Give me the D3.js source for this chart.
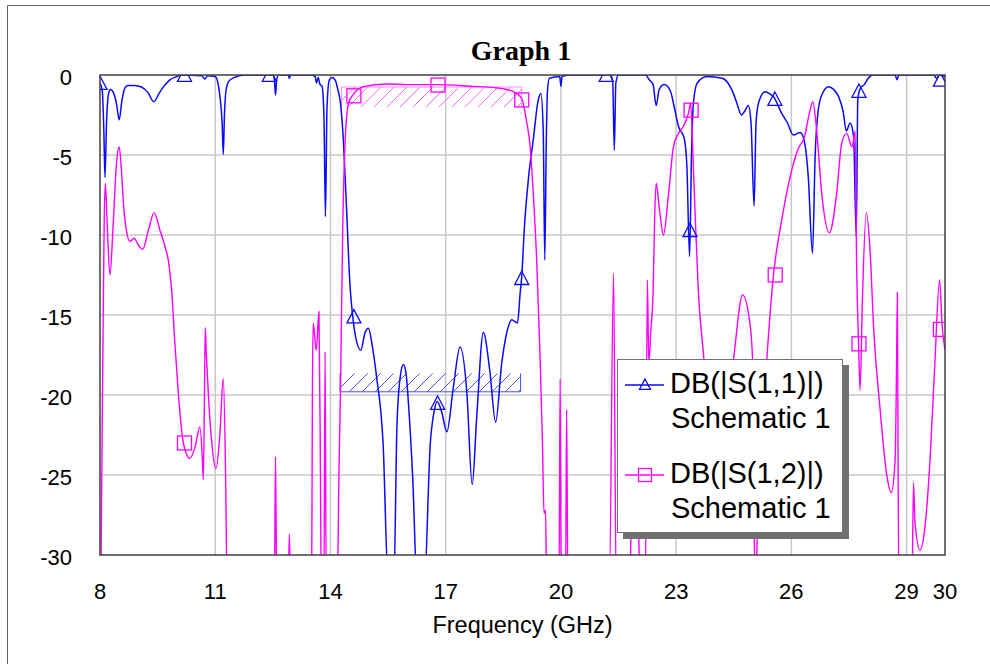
<!DOCTYPE html>
<html>
<head>
<meta charset="utf-8">
<script src="https://cdn.jsdelivr.net/npm/d3@7"></script>
<style>
  body { margin: 0; background: #fff; }
  text { font-family: Arial, "Liberation Sans", sans-serif; }
</style>
</head>
<body>
<div id="vis"></div>
<script>
(function() {
  var W = 990, H = 664;

  // frequency (GHz) / dB, -32 means below the axis floor
  var s11 = [
    [8.00, -0.5], [8.06, -1.0], [8.10, -3.5], [8.13, -6.4], [8.17, -3.0], [8.22, -1.2], [8.27, -0.9],
    [8.35, -1.1], [8.43, -1.8], [8.50, -2.8], [8.57, -1.6], [8.65, -0.8], [8.72, -0.65], [8.90, -0.65],
    [9.08, -0.75], [9.25, -1.1], [9.40, -1.67], [9.55, -1.1], [9.70, -0.6], [9.82, -0.3], [10.0, -0.1],
    [10.1, 0], [10.65, -0.05], [10.73, -0.25], [10.8, -0.05], [11.0, -0.1], [11.07, -0.5], [11.13, -1.5],
    [11.18, -3.0], [11.21, -4.96], [11.24, -2.5], [11.28, -1.0], [11.35, -0.4], [11.5, -0.15], [11.8, 0],
    [12.5, 0], [12.54, -0.3], [12.57, -1.25], [12.60, -0.3], [12.65, 0], [12.9, 0], [12.93, -0.2],
    [12.96, 0], [13.5, 0], [13.6, -0.1], [13.64, -0.5], [13.68, -0.15], [13.73, -0.6], [13.78, -0.7],
    [13.83, -2.5], [13.87, -8.85], [13.91, -2.0], [13.97, -0.3], [14.05, -0.15], [14.13, -0.35],
    [14.2, -1.0], [14.25, -1.56], [14.34, -4.25], [14.42, -8.4], [14.51, -13.2], [14.58, -15.1],
    [14.65, -16.3], [14.79, -17.2], [14.9, -16.1], [14.99, -15.83], [15.08, -16.8], [15.2, -18.85],
    [15.37, -23], [15.51, -32], [15.65, -32], [15.73, -22], [15.82, -18.8], [15.9, -18.1], [15.97, -18.7],
    [16.03, -20.5], [16.14, -25.1], [16.26, -32], [16.44, -32], [16.6, -23], [16.7, -21], [16.78, -20.4],
    [16.9, -21.1], [17.03, -22.3], [17.2, -19.5], [17.375, -17.0], [17.55, -19.8], [17.69, -25.6],
    [17.81, -21.3], [17.98, -16.1], [18.15, -18.5], [18.30, -21.7], [18.46, -18.0], [18.6, -16.0],
    [18.72, -15.3], [18.87, -15.5], [18.94, -13.6], [18.98, -12.6], [19.05, -9.5], [19.16, -6.35],
    [19.28, -4.06], [19.41, -1.56], [19.48, -1.15], [19.54, -3.5], [19.58, -11.56], [19.62, -4.0],
    [19.65, -1.0], [19.70, -0.2], [19.97, -0.1], [20.0, -0.7], [20.03, -0.1], [20.2, 0], [21.3, 0],
    [21.35, -0.5], [21.39, -4.7], [21.43, -0.5], [21.5, 0], [22.2, 0], [22.3, -0.3], [22.4, -0.6],
    [22.48, -1.9], [22.56, -0.9], [22.69, -0.6], [22.85, -1.0], [22.95, -2.0], [23.06, -3.2],
    [23.21, -3.95], [23.28, -5.7], [23.35, -11.35], [23.40, -5.0], [23.45, -1.75], [23.55, -0.5],
    [23.8, -0.1], [24.2, -0.2], [24.35, -0.5], [24.49, -1.15], [24.6, -1.9], [24.7, -2.5], [24.8, -2.2],
    [24.88, -1.9], [24.95, -3.0], [25.03, -8.2], [25.08, -3.0], [25.15, -1.7], [25.32, -1.04],
    [25.45, -1.2], [25.53, -1.35], [25.75, -2.4], [25.9, -3.0], [26.05, -3.75], [26.23, -3.6],
    [26.33, -4.06], [26.44, -6.35], [26.55, -11.15], [26.62, -5.0], [26.7, -2.2], [26.8, -1.2],
    [26.97, -0.73], [27.1, -0.9], [27.23, -1.35], [27.35, -2.3], [27.43, -3.5], [27.53, -3.0],
    [27.62, -3.85], [27.69, -10.1], [27.73, -1.5], [27.8, -0.8], [27.9, -0.6], [28.0, -0.2], [28.14, 0],
    [28.7, 0], [28.75, -0.3], [28.8, 0], [29.7, 0], [29.78, -0.2], [29.85, 0], [30.0, -0.1]
  ];

  var s12 = [
    [8.00, -32], [8.02, -32], [8.05, -24], [8.08, -16], [8.11, -9], [8.14, -6.77], [8.19, -9.5],
    [8.26, -12.5], [8.34, -9.5], [8.43, -5.5], [8.50, -4.5], [8.56, -6.0], [8.61, -8.0], [8.70, -9.9],
    [8.78, -10.4], [8.89, -10.2], [8.99, -10.6], [9.11, -10.9], [9.26, -9.7], [9.41, -8.6], [9.56, -9.7],
    [9.69, -10.7], [9.78, -11.6], [9.87, -13.6], [9.95, -16.8], [10.04, -19.9], [10.17, -23.0],
    [10.34, -23.96], [10.47, -23.3], [10.6, -22.0], [10.665, -24.0], [10.69, -25.3], [10.72, -20],
    [10.74, -15.8], [10.77, -17.5], [10.82, -19.9], [10.91, -23.0], [11.02, -24.6], [11.12, -22.5],
    [11.21, -18.96], [11.27, -25.0], [11.31, -32], [12.54, -32], [12.57, -23.85], [12.60, -32],
    [12.9, -32], [12.93, -28.7], [12.96, -32], [13.51, -32], [13.53, -20], [13.55, -15.5], [13.63, -17.2],
    [13.70, -14.8], [13.74, -25], [13.76, -32], [13.83, -32], [13.86, -17.3], [13.89, -32], [14.18, -32],
    [14.22, -25], [14.26, -19.9], [14.32, -9.5], [14.38, -4.3], [14.47, -1.77], [14.6, -1.2],
    [14.86, -0.73], [15.47, -0.56], [15.98, -0.6], [16.8, -0.6], [17.64, -0.7], [18.42, -0.83],
    [18.76, -1.04], [18.94, -1.35], [19.0, -1.6], [19.1, -2.8], [19.2, -4.5], [19.28, -7.4],
    [19.37, -11.6], [19.46, -17.8], [19.52, -23], [19.56, -27.4], [19.6, -27.2], [19.63, -32],
    [19.95, -32], [19.98, -19.0], [20.01, -32], [20.12, -32], [20.15, -20.9], [20.18, -32],
    [21.26, -32], [21.37, -12.4], [21.44, -32], [21.78, -32], [21.85, -27], [21.93, -26], [22.0, -27],
    [22.07, -32], [22.2, -32], [22.25, -12.8], [22.29, -18], [22.34, -16], [22.40, -13.6], [22.44, -9],
    [22.48, -6.77], [22.57, -8.5], [22.67, -10.0], [22.8, -7.5], [22.93, -4.48], [23.06, -3.65],
    [23.19, -3.2], [23.32, -2.4], [23.38, -1.77], [23.43, -4.5], [23.49, -8.4], [23.58, -13.6],
    [23.71, -17.4], [23.8, -19.9], [23.95, -23], [24.1, -24], [24.3, -21], [24.49, -17.8],
    [24.73, -13.75], [24.93, -15.7], [25.0, -18.5], [25.03, -28], [25.07, -32], [25.12, -28],
    [25.25, -22], [25.36, -17.8], [25.53, -12.6], [25.75, -9.06], [25.97, -6.35], [26.18, -4.6],
    [26.35, -3.8], [26.45, -2.6], [26.56, -1.67], [26.66, -3.5], [26.79, -7.4], [26.99, -9.86],
    [27.18, -7.4], [27.31, -4.27], [27.44, -3.65], [27.58, -4.5], [27.66, -3.5], [27.7, -12],
    [27.75, -16.8], [27.79, -19.7], [27.85, -14], [27.95, -8.6], [28.05, -11], [28.14, -15.7],
    [28.31, -20.9], [28.49, -25.1], [28.6, -26.1], [28.7, -24.1], [28.74, -18], [28.76, -13.6],
    [28.78, -25], [28.8, -32], [29.14, -32], [29.18, -25.5], [29.22, -28], [29.35, -29.7],
    [29.48, -28.2], [29.61, -24.1], [29.74, -17.8], [29.86, -12.8], [29.92, -15.5], [30.0, -17.2]
  ];

  var s11Markers = [[8.0, -0.5], [10.2, 0], [12.41, 0], [14.61, -15.1], [16.79, -20.5], [18.98, -12.7],
    [21.18, 0], [23.36, -9.7], [25.57, -1.5], [27.76, -1.0], [29.88, -0.3]];
  var s12Markers = [[10.2, -23.0], [14.61, -1.3], [16.8, -0.63], [18.98, -1.56], [23.39, -2.2],
    [25.58, -12.5], [27.76, -16.8], [29.88, -15.9]];

  // optimisation goals (start GHz, stop GHz, limit dB, band dB)
  var s11Goal = [14.25, 18.95, -19.8, -18.65];
  var s12Goal = [14.29, 18.98, -0.75, -2.0];

  var xTicks = [8, 11, 14, 17, 20, 23, 26, 29, 30];
  var yTicks = [0, -5, -10, -15, -20, -25, -30];
  var legendNames = [['DB(|S(1,1)|)', 'Schematic 1'], ['DB(|S(1,2)|)', 'Schematic 1']];

  var BLUE = '#0a0aff', PINK = '#ff00ff';

  var svg = d3.select('#vis').append('svg').attr('width', W).attr('height', H);
  var x = d3.scaleLinear().domain([8, 30]).range([100, 945]);
  var y = d3.scaleLinear().domain([-30, 0]).range([555, 75]);

  var defs = svg.append('defs');
  defs.append('clipPath').attr('id', 'plotclip').append('rect')
    .attr('x', x(8)).attr('y', y(0)).attr('width', x(30) - x(8)).attr('height', y(-30) - y(0));
  [['hatchBlue', '#5050ff'], ['hatchPink', '#ff66ff']].forEach(function(h) {
    var p = defs.append('pattern').attr('id', h[0]).attr('patternUnits', 'userSpaceOnUse')
      .attr('width', 13).attr('height', 13);
    p.append('path').attr('d', 'M-1,14 L14,-1').attr('stroke', h[1]).attr('stroke-width', 1);
  });

  // outer frame
  svg.append('path').attr('d', 'M7.5,664 V5.5 H990').attr('fill', 'none').attr('stroke', '#606060');

  // title
  svg.append('text').attr('x', 521).attr('y', 60).attr('text-anchor', 'middle')
    .style('font-family', '"Liberation Serif", "Times New Roman", serif')
    .style('font-weight', 'bold').style('font-size', '28px').text('Graph 1');

  // grid
  var grid = svg.append('g').attr('stroke', '#c8c8c8').attr('stroke-width', 1.5);
  grid.selectAll('.vx').data(xTicks.filter(function(d) { return d > 8 && d < 30; })).enter()
    .append('line').attr('x1', function(d) { return x(d); }).attr('x2', function(d) { return x(d); })
    .attr('y1', y(0)).attr('y2', y(-30));
  grid.selectAll('.hy').data(yTicks.filter(function(d) { return d < 0 && d > -30; })).enter()
    .append('line').attr('y1', function(d) { return y(d); }).attr('y2', function(d) { return y(d); })
    .attr('x1', x(8)).attr('x2', x(30));

  // tick labels
  svg.append('g').selectAll('text').data(yTicks).enter().append('text')
    .attr('x', 72).attr('y', function(d) { return y(d) + 10; }).attr('text-anchor', 'end')
    .style('font-size', '22px').text(function(d) { return d; });
  svg.append('g').selectAll('text').data(xTicks).enter().append('text')
    .attr('x', function(d) { return x(d); }).attr('y', 599).attr('text-anchor', 'middle')
    .style('font-size', '22px').text(function(d) { return d; });
  svg.append('text').attr('x', 522.5).attr('y', 633).attr('text-anchor', 'middle')
    .style('font-size', '23.5px').text('Frequency (GHz)');

  var plot = svg.append('g').attr('clip-path', 'url(#plotclip)');

  // goal hatches
  function goal(g, color, fill, edge) {
    var gg = plot.append('g');
    var top = Math.min(y(g[2]), y(g[3])), bot = Math.max(y(g[2]), y(g[3]));
    gg.append('rect').attr('x', x(g[0])).attr('y', top).attr('width', x(g[1]) - x(g[0]))
      .attr('height', bot - top).attr('fill', 'url(#' + fill + ')');
    gg.append('path').attr('fill', 'none').attr('stroke', color).attr('stroke-width', 1)
      .attr('d', 'M' + x(g[0]) + ',' + (edge ? top : bot) + ' V' + y(g[2]) + ' H' + x(g[1]) +
        ' V' + (edge ? top : bot));
  }
  goal(s11Goal, '#4a4aff', 'hatchBlue', true);
  goal(s12Goal, '#ff8cff', 'hatchPink', false);

  var line = d3.line().x(function(d) { return x(d[0]); }).y(function(d) { return y(d[1]); })
    .curve(d3.curveMonotoneX);
  plot.append('path').datum(s11).attr('d', line).attr('fill', 'none')
    .attr('stroke', BLUE).attr('stroke-width', 1.5);
  plot.append('path').datum(s12).attr('d', line).attr('fill', 'none')
    .attr('stroke', PINK).attr('stroke-width', 1.4);

  function tri(cx, cy, s) {
    return 'M' + cx + ',' + (cy - s * 0.5) + ' L' + (cx + s * 0.5) + ',' + (cy + s * 0.45) +
      ' L' + (cx - s * 0.5) + ',' + (cy + s * 0.45) + 'Z';
  }
  plot.selectAll('.tri').data(s11Markers).enter().append('path')
    .attr('d', function(d) { return tri(x(d[0]), y(d[1]), 14); })
    .attr('fill', 'none').attr('stroke', BLUE).attr('stroke-width', 1.3);
  plot.selectAll('.sq').data(s12Markers).enter().append('rect')
    .attr('x', function(d) { return x(d[0]) - 7; }).attr('y', function(d) { return y(d[1]) - 7; })
    .attr('width', 14).attr('height', 14)
    .attr('fill', 'none').attr('stroke', PINK).attr('stroke-width', 1.3);

  // plot frame
  svg.append('rect').attr('x', x(8)).attr('y', y(0)).attr('width', x(30) - x(8))
    .attr('height', y(-30) - y(0)).attr('fill', 'none').attr('stroke', '#404040').attr('stroke-width', 1.5);

  // legend
  var lg = svg.append('g');
  lg.append('rect').attr('x', 623).attr('y', 365).attr('width', 226).attr('height', 174).attr('fill', '#707070');
  lg.append('rect').attr('x', 617.5).attr('y', 359.5).attr('width', 225).attr('height', 173)
    .attr('fill', '#fff').attr('stroke', '#707070');
  var colors = [BLUE, PINK];
  legendNames.forEach(function(n, i) {
    var ly = 385 + i * 90;
    lg.append('line').attr('x1', 625).attr('x2', 664).attr('y1', ly).attr('y2', ly)
      .attr('stroke', colors[i]).attr('stroke-width', 1.3);
    if (i === 0) {
      lg.append('path').attr('d', tri(645, ly - 0.5, 11)).attr('fill', 'none')
        .attr('stroke', colors[i]).attr('stroke-width', 1.3);
    } else {
      lg.append('rect').attr('x', 638.5).attr('y', ly - 6.5).attr('width', 13).attr('height', 13)
        .attr('fill', 'none').attr('stroke', colors[i]).attr('stroke-width', 1.3);
    }
    lg.append('text').attr('x', 670).attr('y', ly + 8).style('font-size', '29px').text(n[0]);
    lg.append('text').attr('x', 671).attr('y', ly + 43).style('font-size', '29px').text(n[1]);
  });
}).call(this);
</script>
</body>
</html>
